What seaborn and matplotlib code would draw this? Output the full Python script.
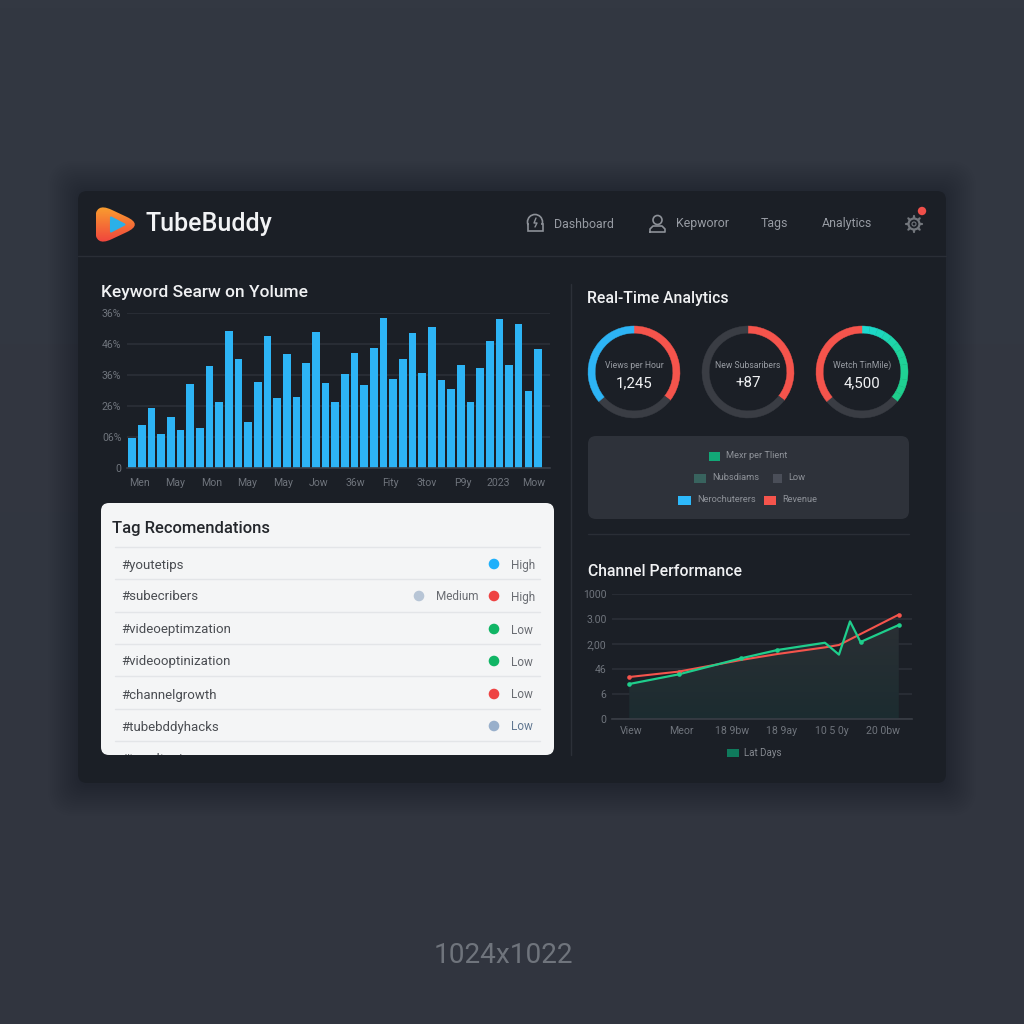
import numpy as np
import pandas as pd
import seaborn as sns
import matplotlib.pyplot as plt
from matplotlib.patches import FancyBboxPatch, Polygon, Circle, Rectangle, PathPatch
from matplotlib.path import Path
from matplotlib.transforms import Bbox

# --- data ---
bar_values = [19.3, 27.6, 39, 21.8, 33, 24.4, 54.4, 26.1, 66, 42.6, 88.4, 70.4, 29.8, 55.2, 85.4,
              45, 73.7, 45.6, 67.6, 88, 54.8, 42.3, 60.8, 73.9, 53.3, 77.3, 96.8, 57.6, 70.4, 87.2,
              61.2, 91.2, 56.7, 50.7, 66.6, 42.3, 64.7, 81.8, 96.4, 66.2, 92.7, 49.9, 76.9]
bar_months = ["Men", "May", "Mon", "May", "May", "Jow", "36w", "Fity", "3tov", "P9y", "2023", "Mow"]
bar_yticks = ["0", "06%", "26%", "36%", "46%", "36%"]

gauge_names = ["Views per Hour", "New Subsaribers", "Wetch TinMile)"]
gauge_numbers = ["1,245", "+87", "4,500"]
gauge_arcs = [[128, 102, 130], [128, 232], [130, 100, 130]]

legend_labels = ["Mexr per Tlient", "Nubsdiams", "Low", "Nerochuterers", "Revenue"]

line_x_green = [0, 18.3, 41.4, 55, 72.6, 77.8, 81.9, 85.8, 100]
line_y_green = [28, 35.7, 48.5, 55.2, 61, 51.5, 78.1, 61.6, 75.2]
line_x_red = [0, 18.3, 41.4, 55, 72.6, 77.8, 100]
line_y_red = [33.6, 37.9, 47.2, 52, 57.3, 59.2, 83.5]
line_yticks = ["0", "6", "46", "2,00", "3.00", "1000"]
line_xticks = ["View", "Meor", "18 9bw", "18 9ay", "10 5 0y", "20 0bw"]

tags = ["#youtetips", "#subecribers", "#videoeptimzation", "#videooptinization",
        "#channelgrowth", "#tubebddyhacks"]
tag_levels = ["High", "High", "Low", "Low", "Low", "Low"]

nav_labels = ["Dashboard", "Kepworor", "Tags", "Analytics"]

# --- colours ---
CARD = "#1b1f26"
GRID = "#2b2f37"
TICK = "#6f747c"
BLUE = "#2db4f5"
RED = "#f5544c"
GREEN = "#1fce8c"
RING = "#3a3d44"

sns.set_theme(style="dark")
plt.rcParams["font.family"] = ["Roboto", "DejaVu Sans"]

fig = plt.figure(figsize=(10.24, 10.24), dpi=100)

# full-figure axes in pixel coordinates for the panels and the text
bg = fig.add_axes([0, 0, 1, 1], zorder=0)
bg.axis("off")


def axes_px(x0, y0, x1, y1):
    new_ax = fig.add_axes([x0 / 1024, 1 - y1 / 1024, (x1 - x0) / 1024, (y1 - y0) / 1024], zorder=2)
    new_ax.patch.set_alpha(0)
    return new_ax


def rounded(x0, y0, x1, y1, r, color, **kw):
    patch = FancyBboxPatch((x0 + r, y0 + r), x1 - x0 - 2 * r, y1 - y0 - 2 * r,
                           boxstyle=f"round,pad={r},rounding_size={r}",
                           fc=color, ec="none", **kw)
    bg.add_patch(patch)
    return patch


def label(x, y, s, color="#a0a4ab", size=8, ha="left", weight="normal", **kw):
    # +1 because va=center sits a little high in this font
    return bg.text(x, y + 1, s, color=color, fontsize=size, ha=ha, va="center", fontweight=weight, **kw)


def rounded_poly(pts, r):
    # closed path with quadratic curves on every corner
    verts, codes = [], []
    n = len(pts)
    for i in range(n):
        p = np.array(pts[i], float)
        a = np.array(pts[i - 1], float)
        b = np.array(pts[(i + 1) % n], float)
        p0 = p + (a - p) / np.linalg.norm(a - p) * r
        p1 = p + (b - p) / np.linalg.norm(b - p) * r
        verts += [p0, p, p1]
        codes += [Path.MOVETO if i == 0 else Path.LINETO, Path.CURVE3, Path.CURVE3]
    verts.append(verts[0])
    codes.append(Path.CLOSEPOLY)
    return Path(verts, codes)


def v_gradient(top, bottom, n=128):
    t = np.linspace(0, 1, n).reshape(-1, 1, 1)
    return (np.array(top) * (1 - t) + np.array(bottom) * t) / 255


# background, nearly flat
bg.imshow(v_gradient([0x33, 0x38, 0x42], [0x31, 0x35, 0x3f]), extent=(0, 1024, 1024, 0), aspect="auto", zorder=0)

# card with a faint shadow
for i in range(16):
    rounded(78 - i * 2, 191 - i * 2, 946 + i * 2, 783 + 3 + i * 2, 12 + i, "#14161b", alpha=0.008, zorder=1)
rounded(78, 191, 946, 783, 9, CARD, zorder=2)
bg.plot([78, 946], [256, 256], color="#2a2e36", lw=1, zorder=3)
bg.plot([571, 571], [284, 755], color="#2c3038", lw=1, zorder=3)
bg.plot([588, 909], [534, 534], color="#2a2e36", lw=1, zorder=3)

# --- header ---
logo = PathPatch(rounded_poly([[95, 202], [143, 224.5], [95, 247]], 18), fc="none", ec="none", zorder=3)
bg.add_patch(logo)
logo_img = bg.imshow(v_gradient([0xf9, 0xa0, 0x2e], [0xf0, 0x42, 0x3e]), extent=(96, 140, 243, 206),
                     aspect="auto", origin="upper", zorder=4)
logo_img.set_clip_path(logo)
bg.add_patch(Polygon([[111, 217.5], [124.5, 224.5], [111, 231.5]], closed=True, fc="#2bb0e8", ec="#2bb0e8",
                     lw=1.5, joinstyle="round", zorder=5))
label(145, 222.5, "TubeBuddy", color="#f2f3f5", size=18, weight="medium", zorder=5)

for x, s in zip([554, 676, 761, 822], nav_labels):
    label(x, 223, s, color="#979ba3", size=8.9, zorder=5)
# dashboard icon
bg.add_patch(Circle((535, 222), 7.5, fc="none", ec="#8d9198", lw=1.2, zorder=4))
bg.add_patch(Rectangle((527.5, 224), 15, 7, fc=CARD, ec="#8d9198", lw=1.2, zorder=5))
bg.add_patch(Rectangle((529, 222), 12, 5, fc=CARD, ec="none", zorder=5))
bg.plot([536, 534, 537, 535], [218, 223, 223, 227], color="#8d9198", lw=1, zorder=6)
# user icon
bg.add_patch(Circle((657.5, 220), 4.5, fc="none", ec="#8d9198", lw=1.2, zorder=5))
bg.plot([650, 650, 653, 662, 665, 665, 650], [232, 229, 226, 226, 229, 232, 232], color="#8d9198", lw=1.2, zorder=5)
# gear icon
bg.add_patch(Circle((914, 224), 5.5, fc="none", ec="#72767c", lw=1.6, zorder=5))
bg.add_patch(Circle((914, 224), 2, fc="none", ec="#72767c", lw=0.8, zorder=5))
for ang in np.arange(0, 360, 45):
    c, s = np.cos(np.radians(ang)), np.sin(np.radians(ang))
    bg.plot([914 + 6 * c, 914 + 8 * c], [224 + 6 * s, 224 + 8 * s], color="#72767c", lw=1.6, zorder=5)
bg.add_patch(Circle((922, 211), 4.2, fc="#ef4f4a", ec="none", zorder=6))

# --- keyword bars ---
label(101, 291, "Keyword Searw on Yolume", color="#f0f1f3", size=12.5, weight="medium", zorder=5)
bar_ax = axes_px(127, 313, 550, 468)
bar_df = pd.DataFrame({"bar": range(len(bar_values)), "volume": bar_values})
sns.barplot(data=bar_df, x="bar", y="volume", color=BLUE, width=0.79, saturation=1, linewidth=0, ax=bar_ax)
bar_ax.set_xlim(-0.52, 43.24)
bar_ax.set_ylim(0, 100)
bar_ax.set_xticks(np.linspace(0.8, 41.6, len(bar_months)))
bar_ax.set_xticklabels(bar_months)
bar_ax.set_yticks(np.linspace(0, 100, len(bar_yticks)))
bar_ax.set_yticklabels(bar_yticks)

# --- gauges ---
label(587, 297, "Real-Time Analytics", color="#f0f1f3", size=11.3, weight="medium", zorder=5)
gauge_colors = [[RED, RING, BLUE], [RED, RING], [GREEN, RING, RED]]
for i, cx in enumerate([634, 748, 862]):
    g_ax = axes_px(cx - 46, 372 - 46, cx + 46, 372 + 46)
    arcs, cols = gauge_arcs[i], gauge_colors[i]
    if i == 2:
        # the green arc fades from teal at the top
        shades = sns.blend_palette(["#1cd9d0", "#1fd49a", GREEN], 13)
        arcs = [arcs[0] / 13] * 13 + arcs[1:]
        cols = list(shades) + cols[1:]
    wedges, _ = g_ax.pie(arcs, colors=cols, startangle=90, counterclock=False, radius=1,
                         wedgeprops=dict(width=0.155, linewidth=0.3))
    for w in wedges:
        w.set_edgecolor(w.get_facecolor())
    g_ax.set_xlim(-1, 1)
    g_ax.set_ylim(-1, 1)
    label(cx, 364, gauge_names[i], color="#989ca3", size=6.2, ha="center", zorder=5)
    label(cx, 382, gauge_numbers[i], color="#f1f2f4", size=10.8, ha="center", zorder=5)

# --- legend panel ---
rounded(588, 436, 909, 519, 8, "#2e323a", zorder=3)
legend_cols = ["#12a877", "#38635e", "#4a4e58", "#2db9fb", "#f5544c"]
legend_pos = [(709, 456, 11), (694, 478, 12), (773, 478, 9), (678, 500, 13), (764, 500, 12)]
for (x, y, w), col, s in zip(legend_pos, legend_cols, legend_labels):
    bg.add_patch(Rectangle((x, y - 4), w, 8.5, fc=col, ec="none", zorder=4))
    label(x + w + 6, y - 1, s, color="#8e9299", size=6.7, zorder=5)

# --- channel performance ---
label(588, 571, "Channel Performance", color="#f0f1f3", size=11.3, weight="medium", zorder=5)
line_ax = axes_px(612, 594, 912, 719)
fill = line_ax.fill_between(line_x_green, line_y_green, 0, color="none")
fill_img = line_ax.imshow(v_gradient([0x2c, 0x30, 0x35], [0x1c, 0x2c, 0x30]), extent=(0, 100, 0, 85),
                          aspect="auto", zorder=1)
fill_img.set_clip_path(fill.get_paths()[0], transform=line_ax.transData)
sns.lineplot(x=line_x_red, y=line_y_red, color=RED, lw=1.5, ax=line_ax, errorbar=None, zorder=3)
sns.lineplot(x=line_x_green, y=line_y_green, color=GREEN, lw=1.6, ax=line_ax, errorbar=None, sort=False, zorder=4)
sns.scatterplot(x=line_x_red[:2] + line_x_red[-1:], y=line_y_red[:2] + line_y_red[-1:], color=RED, s=11,
                linewidth=0, ax=line_ax, zorder=5)
sns.scatterplot(x=line_x_green[:4] + line_x_green[-2:], y=line_y_green[:4] + line_y_green[-2:], color=GREEN,
                s=11, linewidth=0, ax=line_ax, zorder=5)
line_ax.set_xlim(-6.4, 104.9)
line_ax.set_ylim(0, 100)
line_ax.set_xticks(np.linspace(0.6, 94, len(line_xticks)))
line_ax.set_xticklabels(line_xticks)
line_ax.set_yticks(np.linspace(0, 100, len(line_yticks)))
line_ax.set_yticklabels(line_yticks)
bg.add_patch(Rectangle((727, 749), 12, 8, fc="#0f7a5c", ec="none", zorder=4))
label(744, 752, "Lat Days", color="#858990", size=7, zorder=5)

# shared look of both cartesian axes
for cur in (bar_ax, line_ax):
    cur.grid(True, axis="y", color=GRID, lw=1.2)
    cur.grid(False, axis="x")
    cur.set_axisbelow(True)
    cur.set_xlabel("")
    cur.set_ylabel("")
    cur.tick_params(length=0, colors=TICK, labelsize=7.6)
    cur.tick_params(axis="y", pad=4)
    for name, spine in cur.spines.items():
        spine.set_visible(name == "bottom")
        spine.set_color("#3a3e46")
        spine.set_linewidth(1.2)
bar_ax.tick_params(axis="x", pad=7)
line_ax.tick_params(axis="x", pad=5)

# --- tag panel ---
rounded(101, 503, 554, 755, 8, "#f4f5f6", zorder=3)
label(112, 527, "Tag Recomendations", color="#24272c", size=12, weight="medium", zorder=5)
for y in [547, 579, 612, 644, 676, 709, 741]:
    bg.plot([115, 540], [y, y], color="#e3e5e8", lw=1, zorder=4)
dot_cols = ["#1eb0fb", "#ee4343", "#10b565", "#10b565", "#ee4343", "#98afcb"]
for i, y in enumerate([564, 596, 629, 661, 694, 726]):
    label(121, y, tags[i], color="#4a4d52", size=9.5, zorder=5)
    bg.add_patch(Circle((494, y), 5.3, fc=dot_cols[i], ec="none", zorder=5))
    label(511, y, tag_levels[i], color="#5f7690" if i == 5 else "#696c72", size=8.5, zorder=5)
bg.add_patch(Circle((419, 596), 5.3, fc="#b7c5d6", ec="none", zorder=5))
label(436, 596, "Medium", color="#696c72", size=8.5, zorder=5)
# last row is cut off by the panel edge; agg only honours a clip box for plain text
cut_text = label(121, 759, "#trendtopics", color="#4a4d52", size=9.5, zorder=5)
cut_text.set_clip_on(True)
cut_text.set_clip_box(Bbox.from_extents(101, 1024 - 755, 554, 1024 - 503))

label(503, 954.5, "1024x1022", color="#6f747c", size=20.2, ha="center", zorder=5)

bg.set_xlim(0, 1024)
bg.set_ylim(1024, 0)

fig.savefig("out.png", dpi=100)
